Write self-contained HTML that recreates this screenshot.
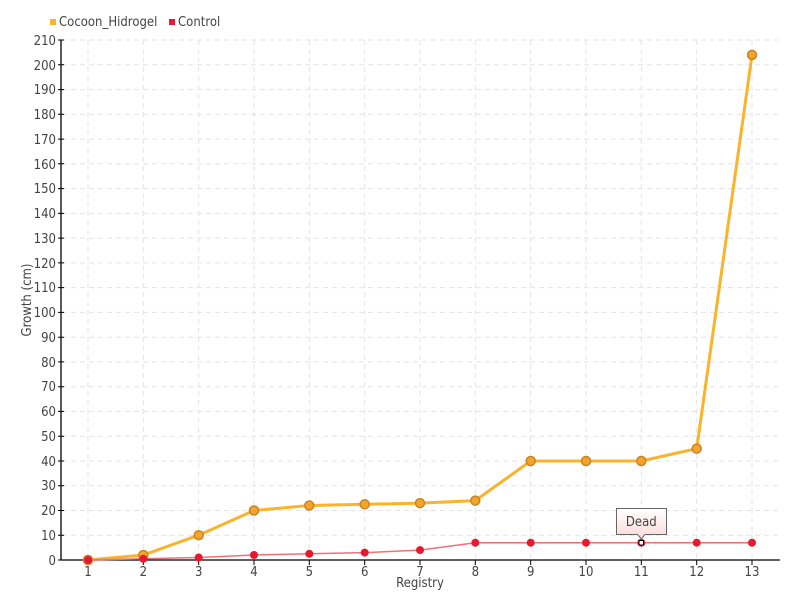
<!DOCTYPE html><html><head><style>body{margin:0;background:#fff}svg{font-family:"DejaVu Sans Condensed","Liberation Sans",sans-serif}</style></head><body>
<svg width="800" height="600" xmlns="http://www.w3.org/2000/svg">
<g stroke="#e3e3e3" stroke-dasharray="5,4" stroke-width="1">
<line x1="62" x2="780" y1="535.2" y2="535.2"/><line x1="62" x2="780" y1="510.5" y2="510.5"/><line x1="62" x2="780" y1="485.7" y2="485.7"/><line x1="62" x2="780" y1="461" y2="461"/><line x1="62" x2="780" y1="436.2" y2="436.2"/><line x1="62" x2="780" y1="411.4" y2="411.4"/><line x1="62" x2="780" y1="386.7" y2="386.7"/><line x1="62" x2="780" y1="361.9" y2="361.9"/><line x1="62" x2="780" y1="337.2" y2="337.2"/><line x1="62" x2="780" y1="312.4" y2="312.4"/><line x1="62" x2="780" y1="287.6" y2="287.6"/><line x1="62" x2="780" y1="262.9" y2="262.9"/><line x1="62" x2="780" y1="238.1" y2="238.1"/><line x1="62" x2="780" y1="213.4" y2="213.4"/><line x1="62" x2="780" y1="188.6" y2="188.6"/><line x1="62" x2="780" y1="163.8" y2="163.8"/><line x1="62" x2="780" y1="139.1" y2="139.1"/><line x1="62" x2="780" y1="114.3" y2="114.3"/><line x1="62" x2="780" y1="89.6" y2="89.6"/><line x1="62" x2="780" y1="64.8" y2="64.8"/><line x1="62" x2="780" y1="40" y2="40"/>
<line y1="40" y2="560" x1="88" x2="88"/><line y1="40" y2="560" x1="143.3" x2="143.3"/><line y1="40" y2="560" x1="198.7" x2="198.7"/><line y1="40" y2="560" x1="254" x2="254"/><line y1="40" y2="560" x1="309.3" x2="309.3"/><line y1="40" y2="560" x1="364.7" x2="364.7"/><line y1="40" y2="560" x1="420" x2="420"/><line y1="40" y2="560" x1="475.3" x2="475.3"/><line y1="40" y2="560" x1="530.7" x2="530.7"/><line y1="40" y2="560" x1="586" x2="586"/><line y1="40" y2="560" x1="641.3" x2="641.3"/><line y1="40" y2="560" x1="696.7" x2="696.7"/><line y1="40" y2="560" x1="752" x2="752"/>
</g>
<g stroke="#000" stroke-width="1.3"><line x1="61" y1="40" x2="61" y2="560"/><line x1="61" y1="560" x2="780" y2="560"/></g>
<g stroke="#000" stroke-width="1">
<path d="M58,560H64M58,535.2H64M58,510.5H64M58,485.7H64M58,461H64M58,436.2H64M58,411.4H64M58,386.7H64M58,361.9H64M58,337.2H64M58,312.4H64M58,287.6H64M58,262.9H64M58,238.1H64M58,213.4H64M58,188.6H64M58,163.8H64M58,139.1H64M58,114.3H64M58,89.6H64M58,64.8H64M58,40H64"/>
<path d="M88,560V565M143.3,560V565M198.7,560V565M254,560V565M309.3,560V565M364.7,560V565M420,560V565M475.3,560V565M530.7,560V565M586,560V565M641.3,560V565M696.7,560V565M752,560V565"/>
</g>
<g font-size="13" fill="#444" text-anchor="end">
<text x="56" y="565">0</text><text x="56" y="540">10</text><text x="56" y="515">20</text><text x="56" y="490">30</text><text x="56" y="466">40</text><text x="56" y="441">50</text><text x="56" y="416">60</text><text x="56" y="391">70</text><text x="56" y="367">80</text><text x="56" y="342">90</text><text x="56" y="317">100</text><text x="56" y="292">110</text><text x="56" y="268">120</text><text x="56" y="243">130</text><text x="56" y="218">140</text><text x="56" y="193">150</text><text x="56" y="169">160</text><text x="56" y="144">170</text><text x="56" y="119">180</text><text x="56" y="94">190</text><text x="56" y="70">200</text><text x="56" y="45">210</text>
</g>
<g font-size="13" fill="#444" text-anchor="middle">
<text x="88" y="576">1</text><text x="143.3" y="576">2</text><text x="198.7" y="576">3</text><text x="254" y="576">4</text><text x="309.3" y="576">5</text><text x="364.7" y="576">6</text><text x="420" y="576">7</text><text x="475.3" y="576">8</text><text x="530.7" y="576">9</text><text x="586" y="576">10</text><text x="641.3" y="576">11</text><text x="696.7" y="576">12</text><text x="752" y="576">13</text>
<text x="420" y="587">Registry</text>
<text transform="translate(31,300) rotate(-90)">Growth (cm)</text>
</g>
<polyline fill="none" stroke="#f9b42b" stroke-width="3" points="88,560 143.3,555 198.7,535.2 254,510.5 309.3,505.5 364.7,504.3 420,503.1 475.3,500.6 530.7,461 586,461 641.3,461 696.7,448.6 752,54.9"/>
<g fill="#f4a528" stroke="#c7842a" stroke-width="1.5">
<circle cx="88" cy="560" r="4.5"/><circle cx="143.3" cy="555" r="4.5"/><circle cx="198.7" cy="535.2" r="4.5"/><circle cx="254" cy="510.5" r="4.5"/><circle cx="309.3" cy="505.5" r="4.5"/><circle cx="364.7" cy="504.3" r="4.5"/><circle cx="420" cy="503.1" r="4.5"/><circle cx="475.3" cy="500.6" r="4.5"/><circle cx="530.7" cy="461" r="4.5"/><circle cx="586" cy="461" r="4.5"/><circle cx="641.3" cy="461" r="4.5"/><circle cx="696.7" cy="448.6" r="4.5"/><circle cx="752" cy="54.9" r="4.5"/>
</g>
<polyline fill="none" stroke="#f0707a" stroke-width="1.5" points="88,560 143.3,558.8 198.7,557.5 254,555 309.3,553.8 364.7,552.6 420,550.1 475.3,542.7 530.7,542.7 586,542.7 641.3,542.7 696.7,542.7 752,542.7"/>
<g fill="#e8192c">
<circle cx="88" cy="560" r="4"/><circle cx="143.3" cy="558.8" r="4"/><circle cx="198.7" cy="557.5" r="4"/><circle cx="254" cy="555" r="4"/><circle cx="309.3" cy="553.8" r="4"/><circle cx="364.7" cy="552.6" r="4"/><circle cx="420" cy="550.1" r="4"/><circle cx="475.3" cy="542.7" r="4"/><circle cx="530.7" cy="542.7" r="4"/><circle cx="586" cy="542.7" r="4"/><circle cx="641.3" cy="542.7" r="4"/><circle cx="696.7" cy="542.7" r="4"/><circle cx="752" cy="542.7" r="4"/>
</g>
<rect x="639" y="540.5" width="4.5" height="4.5" fill="#fff" stroke="#000" stroke-width="1"/>
<defs><linearGradient id="g" x1="0" y1="0" x2="0" y2="1"><stop offset="0" stop-color="#fff"/><stop offset="1" stop-color="#fcd8d8"/></linearGradient></defs>
<path d="M616.5,508.5 H666.5 V534.5 H645 L641.3,539 L637.5,534.5 H616.5 Z" fill="url(#g)" stroke="#666" stroke-width="1"/>
<text x="641.3" y="526" font-size="13" fill="#444" text-anchor="middle">Dead</text>
<rect x="50" y="19" width="6" height="6" fill="#f9b42b"/>
<text x="59" y="26" font-size="13" fill="#444">Cocoon_Hidrogel</text>
<rect x="169" y="19" width="6" height="6" fill="#e8192c"/>
<text x="178" y="26" font-size="13" fill="#444">Control</text>
</svg></body></html>
